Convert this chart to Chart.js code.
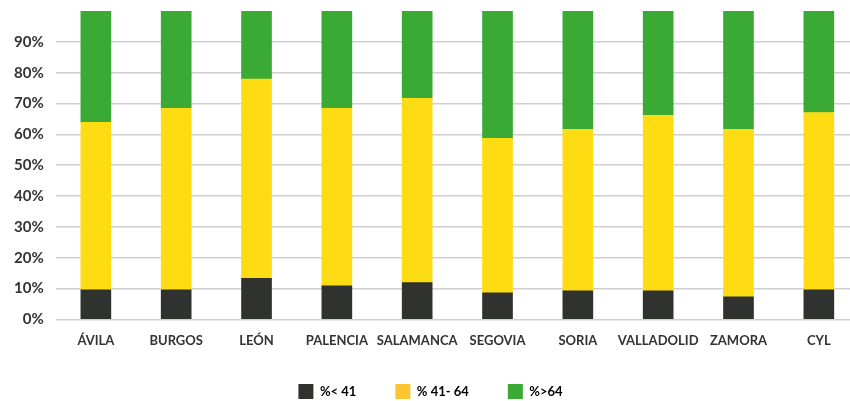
<!DOCTYPE html>
<html>
<head>
<meta charset="utf-8">
<script src="https://cdn.jsdelivr.net/npm/chart.js@4/dist/chart.umd.min.js"></script>
<style>
  html,body{margin:0;padding:0;background:#fff;overflow:hidden}
  .wrap{width:860px;height:401px;position:relative}
</style>
</head>
<body>
<div class="wrap"><canvas id="edad-chart"></canvas></div>
<script>
// provincias
const categories = ['ÁVILA','BURGOS','LEÓN','PALENCIA','SALAMANCA','SEGOVIA','SORIA','VALLADOLID','ZAMORA','CYL'];
// % por tramo de edad
const menos41  = [9.6, 9.6, 13.3, 10.9, 11.9, 8.6, 9.3, 9.3, 7.3, 9.6];
const de41a64  = [54.3, 58.8, 64.6, 57.5, 59.8, 50.1, 52.3, 56.9, 54.3, 57.5];
const mas64    = [36.1, 31.6, 22.1, 31.6, 28.3, 41.3, 38.4, 33.8, 38.4, 32.9];
const yTicks   = [0,10,20,30,40,50,60,70,80,90,100];

const legendColors = ['#303230','#FDC52F','#3AAA35'];
const font = { family: 'Lato', weight: 'bold' };

// leyenda: mucho hueco horizontal entre items sin quitar alto al grafico
const legendFit = {
  id: 'legendFit',
  beforeInit(chart) {
    const lg = chart.legend;
    const fit = lg.fit;
    lg.fit = function() { fit.call(this); this.height = 46; };
  },
  afterLayout(chart) {
    chart.legend.top -= 10;
  },
};

new Chart(document.getElementById('edad-chart'), {
  type: 'bar',
  data: {
    labels: categories,
    datasets: [
      { label: '%< 41',   data: menos41, backgroundColor: '#303230' },
      { label: '% 41- 64', data: de41a64, backgroundColor: '#FDDC14' },
      { label: '%>64',    data: mas64,   backgroundColor: '#3AAA35' },
    ],
  },
  options: {
    responsive: true, maintainAspectRatio: false, animation: false,
    layout: { padding: { top: 0, left: 2, right: 1, bottom: 0 } },
    datasets: { bar: { barThickness: 30 } },
    plugins: {
      tooltip: { enabled: false },
      legend: {
        position: 'bottom',
        labels: {
          boxWidth: 15, boxHeight: 15, padding: 39, color: '#333',
          font: { ...font, size: 13 },
          generateLabels: chart => chart.data.datasets.map((d, i) => ({
            text: d.label, fillStyle: legendColors[i], strokeStyle: legendColors[i],
            lineWidth: 0, datasetIndex: i, hidden: false,
          })),
        },
      },
    },
    scales: {
      x: {
        stacked: true,
        grid: { display: false }, border: { display: false },
        ticks: { color: '#333', font: { ...font, size: 13 }, padding: 6, maxRotation: 0, autoSkip: false },
      },
      y: {
        stacked: true, min: 0, max: 100,
        afterBuildTicks: ax => { ax.ticks = yTicks.map(v => ({ value: v })); },
        afterFit: ax => { ax.paddingTop = 11; },
        border: { display: false },
        grid: { color: c => c.tick && c.tick.value === 100 ? 'rgba(0,0,0,0)' : '#cfcfcf', lineWidth: 1.5, drawTicks: false },
        ticks: { color: '#333', font: { ...font, size: 15 }, padding: 12,
                 callback: v => v === 100 ? '' : v + '%' },
      },
    },
  },
  plugins: [legendFit],
});
</script>
</body>
</html>
